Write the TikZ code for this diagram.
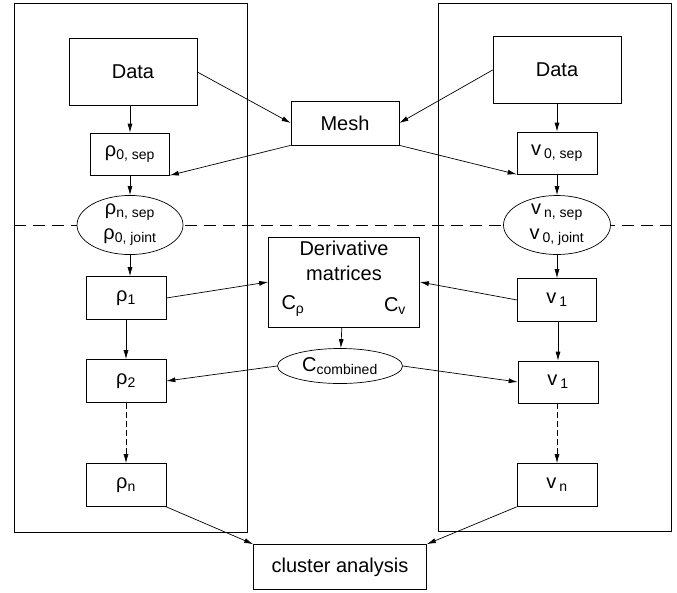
\documentclass[tikz,border=0pt]{standalone}
\usepackage{fontspec}
\setmainfont{Liberation Sans}
\usetikzlibrary{arrows.meta}
\usetikzlibrary{shapes.geometric}
\usetikzlibrary{positioning}
\tikzstyle{blk}=[draw, fill=white, inner sep=0pt]
\tikzstyle{oval}=[draw, ellipse, fill=white, inner sep=0pt, align=center]
\newcommand{\vsym}{v\kern3pt}

\begin{document}
\begin{tikzpicture}[x=1pt,y=-1pt,>={Latex[length=9pt,width=5pt]},line width=0.7pt,
  every node/.style={font=\fontsize{20}{25}\selectfont}]
\useasboundingbox (0,0) rectangle (677,592);
% frames and the dashed separator
\draw (14,3) rectangle (247,532);
\draw (438,3) rectangle (671,531);
\draw[dash pattern=on 12pt off 7pt] (14,225) -- (671,225);

% left column
\node [blk, minimum width=128pt, minimum height=67pt] (dataL) at (133,72) {Data};
\node [blk, minimum width=79pt, minimum height=42pt] (rho0) at (130,154) {ρ\textsubscript{0, sep}};
\node [oval, minimum width=106pt, minimum height=59pt] (rhoE) at (130,225) {ρ\textsubscript{n, sep}\\ρ\textsubscript{0, joint}};
\node [blk, minimum width=80pt, minimum height=43pt] (rho1) at (126,298) {ρ\textsubscript{1}};
\node [blk, minimum width=80pt, minimum height=43pt] (rho2) at (126,381) {ρ\textsubscript{2}};
\node [blk, minimum width=80pt, minimum height=43pt] (rhon) at (126,485) {ρ\textsubscript{n}};

% right column
\node [blk, minimum width=128pt, minimum height=67pt] (dataR) at (557,70) {Data};
\node [blk, minimum width=80pt, minimum height=42pt] (v0) at (557,153) {\vsym\textsubscript{0, sep}};
\node [oval, minimum width=107pt, minimum height=59pt] (vE) at (557,225) {\vsym\textsubscript{n, sep}\\\vsym\textsubscript{0, joint}};
\node [blk, minimum width=79pt, minimum height=43pt] (v1) at (557,300) {\vsym\textsubscript{1}};
\node [blk, minimum width=80pt, minimum height=42pt] (v1b) at (558,382) {\vsym\textsubscript{1}};
\node [blk, minimum width=80pt, minimum height=43pt] (vn) at (557,485) {\vsym\textsubscript{n}};

% middle
\node [blk, minimum width=108pt, minimum height=44pt] (mesh) at (345,123) {Mesh};
\node [blk, minimum width=151pt, minimum height=90pt] (deriv) at (344,282) {};
\node [align=center, inner sep=0pt, below=4pt of deriv.north] (dtitle) {Derivative\\matrices};
\node (crho) at (293,306) {C\textsubscript{ρ}};
\node (cv) at (395,306) {C\textsubscript{v}};
\node [oval, minimum width=125pt, minimum height=35pt] (ccomb) at (340,366) {C\textsubscript{combined}};
\node [blk, minimum width=173pt, minimum height=45pt] (cluster) at (340,567) {cluster analysis};

% connectors
\draw[->] (dataL.south -| rho0.north) -- (rho0.north);
\draw[->] (rho0) -- (rhoE);
\draw[->] (rhoE.south) -- (rhoE.south |- rho1.north);
\draw[->] (rho1) -- (rho2);
\draw[->, dash pattern=on 6pt off 3pt] (rho2) -- (rhon);
\draw[->] (dataR) -- (v0);
\draw[->] (v0) -- (vE);
\draw[->] (vE) -- (v1);
\draw[->] (v1.south -| v1b.north) -- (v1b.north);
\draw[->, dash pattern=on 6pt off 3pt] (v1b.south -| vn.north) -- (vn.north);
\draw[->] (dataL.east) -- (mesh.west);
\draw[->] (dataR.west) -- (mesh.east);
\draw[->] (mesh.south west) -- (rho0.south east);
\draw[->] (mesh.south east) -- (v0.south west);
\draw[->] (rho1.east) -- (deriv.west);
\draw[->] (v1.west) -- (deriv.east);
\draw[->] (deriv) -- (ccomb);
\draw[->] (ccomb.west) -- (rho2.east);
\draw[->] (ccomb.east) -- (v1b.west);
\draw[->] (rhon.south east) -- (cluster.north west);
\draw[->] (vn.south west) -- (cluster.north east);
\end{tikzpicture}
\end{document}
